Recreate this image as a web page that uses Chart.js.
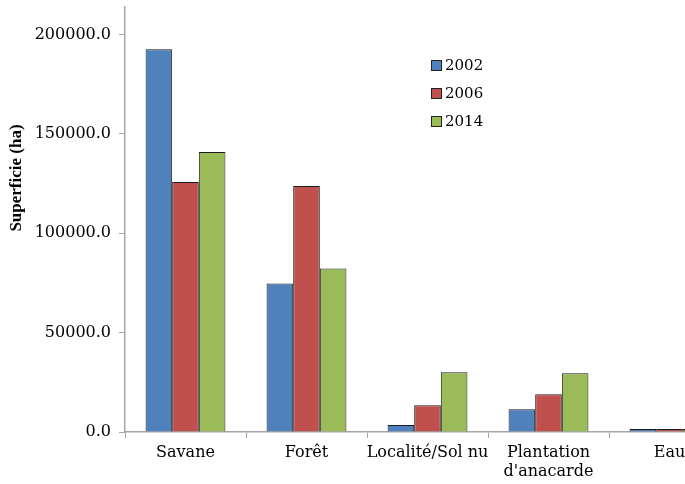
<!DOCTYPE html>
<html><head><meta charset="utf-8">
<script src="https://cdn.jsdelivr.net/npm/chart.js@4/dist/chart.umd.min.js"></script>
<style>html,body{margin:0;padding:0;overflow:hidden;background:#fff;width:685px;height:484px}
#wrap{position:absolute;left:0;top:-11px;width:745px;height:495px}</style>
</head><body>
<div id="wrap"><canvas id="c" width="745" height="495"></canvas></div>
<script>
const categories = ["Savane", "Forêt", "Localité/Sol nu", ["Plantation", "d'anacarde"], "Eau"];
const years = ["2002", "2006", "2014"];
const values2002 = [192500, 74700, 3500, 11500, 1500];
const values2006 = [125800, 123800, 13500, 19000, 1500];
const values2014 = [140900, 82200, 30000, 29600, 1500];
const yTicks = [0, 50000, 100000, 150000, 200000];
const yTitle = "Superficie (ha)";
const colors = ["#4F81BD", "#C0504D", "#9BBB59"];

const serif = "'DejaVu Serif', 'Liberation Serif', serif";
const titleFont = "'Liberation Serif', 'Times New Roman', serif";
const OFF = 11;

const legendPlugin = {
  id: 'customLegend',
  afterDraw(chart) {
    const ctx = chart.ctx;
    ctx.save();
    ctx.font = "15px " + serif;
    ctx.textBaseline = 'middle';
    years.forEach((y, i) => {
      const cy = 65 + OFF + i * 28;
      ctx.fillStyle = colors[i];
      ctx.fillRect(431, cy - 5, 10, 10);
      ctx.strokeStyle = '#222';
      ctx.lineWidth = 1;
      ctx.strokeRect(431.5, cy - 4.5, 10, 10);
      ctx.fillStyle = '#000';
      ctx.fillText(y, 445, cy + 1);
    });
    ctx.restore();
  }
};
const titlePlugin = {
  id: 'yTitle',
  afterDraw(chart) {
    const ctx = chart.ctx;
    ctx.save();
    ctx.translate(17, 178 + OFF);
    ctx.rotate(-Math.PI / 2);
    ctx.font = "bold 17px " + titleFont;
    ctx.fillStyle = '#000';
    ctx.textAlign = 'center';
    ctx.textBaseline = 'middle';
    ctx.fillText(yTitle, 0, 0);
    ctx.restore();
  }
};

new Chart(document.getElementById('c'), {
  type: 'bar',
  data: {
    labels: categories,
    datasets: [values2002, values2006, values2014].map((d, i) => ({
      label: years[i],
      data: d,
      backgroundColor: colors[i],
      borderColor: '#1a1a1a',
      borderWidth: 1,
      barPercentage: 1.0,
      categoryPercentage: 0.66
    }))
  },
  options: {
    responsive: false,
    animation: false,
    layout: { padding: { left: 0, top: 5, right: 15, bottom: 0 } },
    plugins: { legend: { display: false }, tooltip: { enabled: false } },
    scales: {
      x: {
        grid: { drawOnChartArea: false, color: '#a6a6a6', tickLength: 6, offset: true },
        border: { color: '#a6a6a6', width: 1.5 },
        ticks: { color: '#000', font: { family: serif, size: 16 }, padding: 5, maxRotation: 0, autoSkip: false },
        afterFit(s) { s.height = 52; }
      },
      y: {
        min: 0, max: 214000,
        grid: { drawOnChartArea: false, color: '#a6a6a6', tickLength: 6 },
        border: { color: '#a6a6a6', width: 1.5 },
        ticks: { color: '#000', font: { family: serif, size: 16 }, padding: 8,
          callback: v => Number(v).toFixed(1) },
        afterBuildTicks(s) { s.ticks = yTicks.map(v => ({ value: v })); },
        afterFit(s) { s.width = 125; }
      }
    }
  },
  plugins: [legendPlugin, titlePlugin]
});
</script>
</body></html>
